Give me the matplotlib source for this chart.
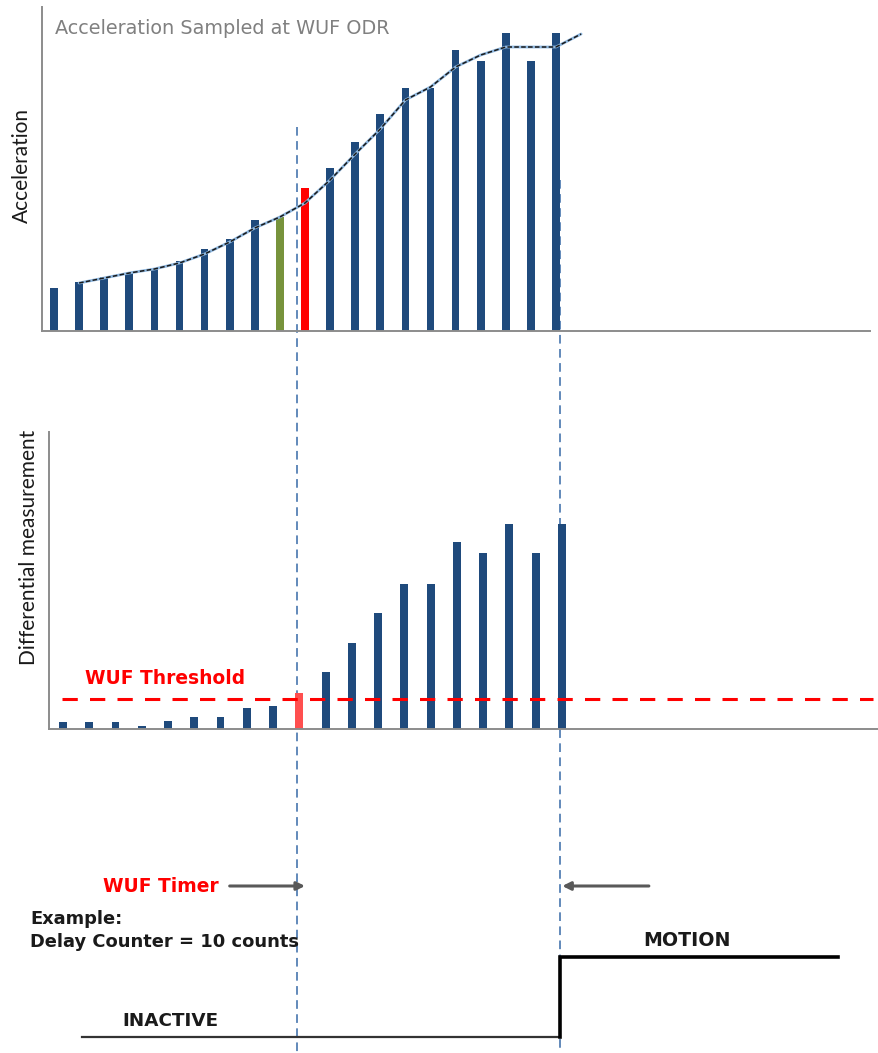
import matplotlib
matplotlib.use('Agg')
import matplotlib.pyplot as plt

# sampled acceleration (21 samples at the WUF ODR)
samples = list(range(21))
accel = [43, 49, 54, 58, 62, 70, 82, 92, 111, 114, 143, 163, 189, 217, 243, 243, 281, 270, 298, 270, 298]
trend_x = list(range(1, 22))
trend = [48, 53, 58, 62, 68, 77, 89, 103, 114, 128, 151, 177, 202, 231, 244, 264, 276, 284, 284, 284, 297]

# differential measurement (20 values)
diff_samples = list(range(20))
diff = [7, 7, 7, 3, 8, 12, 12, 21, 23, 36, 57, 86, 116, 145, 145, 187, 176, 205, 176, 205]
threshold = 30

last_quiet = 9      # green sample
trigger = 10        # first sample over threshold (top panel)
diff_trigger = 9    # same sample in the differential panel

# timeline in sample units (same scale as the top panel)
wuf_line = 9.68
motion_line = 20.16
state_t = [1.12, 20.16, 20.16, 31.24]
state_level = [0, 0, 1, 1]
timer_arrow_left = [7.0, 10.0]
timer_arrow_right = [23.7, 20.25]

BLUE = '#1f4a7c'
GREEN = '#77933c'
RED = '#ff0000'
SPINE = '#8c8c8c'
GUIDE = '#5580b4'
TXT = '#1a1a1a'

W, H = 879, 1053
fig = plt.figure(figsize=(W / 100, H / 100), dpi=100)

# overlay for guides and labels: x in samples, y in pixels from the top
ov = fig.add_axes([0, 0, 1, 1])
ov.set_xlim(-54 / 25.1, (W - 54) / 25.1)
ov.set_ylim(H, 0)
ov.axis('off')


def panel(rect, x0, step, right, top):
	ax = fig.add_axes(rect)
	ax.patch.set_visible(False)
	ax.set_xlim(-x0 / step, right)
	ax.set_ylim(0, top)
	for s in ['top', 'right']:
		ax.spines[s].set_visible(False)
	for s in ['left', 'bottom']:
		ax.spines[s].set_color(SPINE)
		ax.spines[s].set_linewidth(1.4)
	ax.set_xticks([])
	ax.set_yticks([])
	return ax


# top panel
ax1 = panel([42 / W, (H - 331) / H, (870 - 42) / W, 324 / H], 12, 25.1, (870 - 54) / 25.1, 324)
colors = [BLUE] * len(samples)
colors[last_quiet] = GREEN
colors[trigger] = RED
ax1.bar(samples, accel, width=0.31, color=colors, zorder=2)
ax1.plot(trend_x, trend, color='#8fb8e0', lw=2.0, zorder=3, solid_capstyle='round')
ax1.plot(trend_x, trend, color='#1a1a1a', lw=1.1, dashes=(3, 1.5), zorder=4)
ax1.set_ylabel('Acceleration', family='Lato', fontsize=15, color=TXT)
ax1.yaxis.set_label_coords(-0.012, 0.512)

# middle panel
ax2 = panel([49 / W, (H - 729) / H, (W - 49) / W, (729 - 432) / H], 14, 26.26, (W - 63) / 26.26, 297)
colors2 = [BLUE] * len(diff_samples)
colors2[diff_trigger] = '#ff4f4f'
ax2.bar(diff_samples, diff, width=0.3, color=colors2, zorder=2)
ax2.plot([-0.04, 30.85], [threshold, threshold], color=RED, lw=2.2, dashes=(5, 4), zorder=3)
ax2.set_ylabel('Differential measurement', family='Lato', fontsize=15, color=TXT)
ax2.yaxis.set_label_coords(-0.012, 0.613)

# vertical guides
ov.vlines(wuf_line, 127, H, color=GUIDE, lw=1.3, linestyles=(0, (4.8, 3)))
ov.vlines(motion_line, 180, H, color=GUIDE, lw=1.3, linestyles=(0, (4.8, 3)))

# state output
ov.plot(state_t[:2], [1037, 1037], color='#333333', lw=1.6)
ov.plot(state_t[1:], [1037 - 80 * v for v in state_level[1:]], color='black', lw=2.6,
	solid_joinstyle='miter')

# timer arrows
for a in (timer_arrow_left, timer_arrow_right):
	ov.annotate('', xy=(a[1], 886), xytext=(a[0], 886),
		    arrowprops=dict(arrowstyle='-|>', color='#595959', lw=2.2,
				    mutation_scale=12, shrinkA=0, shrinkB=0))

# texts
def px(x):
	return (x - 54) / 25.1

ov.text(px(55), 29, 'Acceleration Sampled at WUF ODR', color='#808080', fontsize=13.9,
	va='center', ha='left')
ov.text(px(85), 679, 'WUF Threshold', color=RED, fontsize=13.4, weight='bold', va='center')
ov.text(px(103), 886, 'WUF Timer', color=RED, fontsize=13.4, weight='bold', va='center')
ov.text(px(30), 919, 'Example:', color=TXT, fontsize=12.9, weight='bold', va='center')
ov.text(px(30), 942, 'Delay Counter = 10 counts', color=TXT, fontsize=12.9, weight='bold', va='center')
ov.text(px(643), 940, 'MOTION', color=TXT, fontsize=13.7, weight='bold', va='center')
ov.text(px(122), 1021, 'INACTIVE', color=TXT, fontsize=13.2, weight='bold', va='center')

fig.savefig('out.png', dpi=100)
